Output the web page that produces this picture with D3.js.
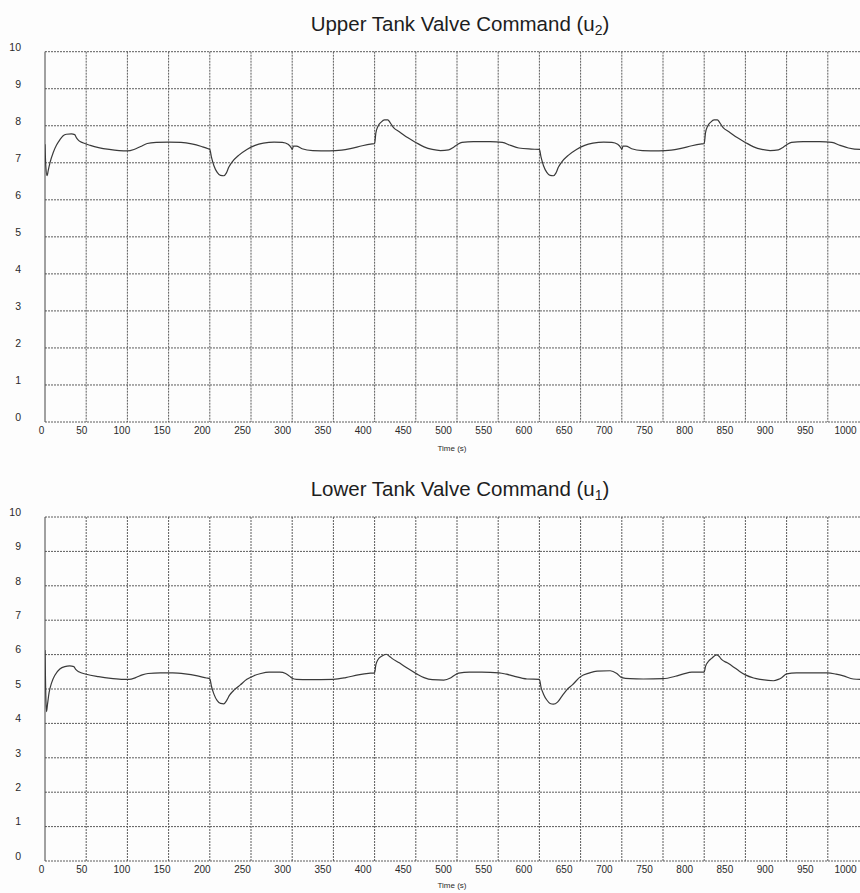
<!DOCTYPE html>
<html>
<head>
<meta charset="utf-8">
<script src="https://cdn.jsdelivr.net/npm/d3@7"></script>
<style>
  html, body { margin: 0; padding: 0; background: #fdfdfd; }
  svg { display: block; font-family: "Liberation Sans", Arial, sans-serif; }
</style>
</head>
<body>
<svg id="chart" width="860" height="893"></svg>
<script>
// Time axis tick labels (s) and value axis ticks
const xTickLabels = [0, 50, 100, 150, 200, 250, 300, 350, 400, 450, 500,
                     550, 600, 650, 700, 750, 800, 850, 900, 950, 1000];
const yTicks = [0, 1, 2, 3, 4, 5, 6, 7, 8, 9, 10];

// Upper tank valve command u2
const timeU2 = [0, 1, 2.5, 4, 6, 10, 14, 18, 22, 26, 32, 36, 38, 41, 46, 55, 65, 78, 90, 100,
  108, 116, 124, 135, 150, 165, 178, 190, 198, 200, 202, 205, 209, 213, 217, 220, 223, 227,
  235, 245, 255, 265, 278, 288, 295, 299, 300, 301.5, 305, 312, 325, 345, 360, 372, 385, 397,
  400, 401.5, 404, 408, 412, 416, 419, 423, 430, 440, 450, 460, 470, 480, 490, 496, 501, 506,
  520, 540, 555, 565, 575, 590, 600, 602, 605, 609, 613, 617, 620, 623, 627, 635, 645, 655,
  665, 678, 688, 695, 699, 700, 701.5, 705, 712, 725, 745, 760, 772, 785, 797, 800, 801.5,
  804, 808, 812, 816, 819, 823, 830, 840, 850, 860, 870, 880, 890, 896, 901, 906, 920, 940,
  955, 965, 975, 989, 1000];
const valuesU2 = [7.5, 6.9, 6.65, 6.8, 7.0, 7.28, 7.48, 7.62, 7.73, 7.77, 7.78, 7.76, 7.68, 7.6,
  7.54, 7.47, 7.41, 7.36, 7.33, 7.32, 7.36, 7.44, 7.52, 7.55, 7.56, 7.55, 7.51, 7.44, 7.38,
  7.36, 7.15, 6.92, 6.74, 6.66, 6.65, 6.72, 6.88, 7.02, 7.2, 7.36, 7.47, 7.53, 7.56, 7.55,
  7.5, 7.4, 7.36, 7.45, 7.45, 7.38, 7.33, 7.32, 7.34, 7.39, 7.46, 7.51, 7.52, 7.8, 7.98,
  8.1, 8.16, 8.16, 8.08, 7.95, 7.84, 7.68, 7.55, 7.43, 7.36, 7.33, 7.35, 7.42, 7.5, 7.55,
  7.57, 7.57, 7.55, 7.47, 7.4, 7.37, 7.36, 7.15, 6.92, 6.74, 6.66, 6.65, 6.72, 6.88, 7.02,
  7.2, 7.36, 7.47, 7.53, 7.56, 7.55, 7.5, 7.4, 7.36, 7.45, 7.45, 7.38, 7.33, 7.32, 7.34,
  7.39, 7.46, 7.51, 7.52, 7.8, 7.98, 8.1, 8.16, 8.16, 8.08, 7.95, 7.84, 7.68, 7.55, 7.43,
  7.36, 7.33, 7.35, 7.42, 7.5, 7.55, 7.57, 7.57, 7.55, 7.47, 7.4, 7.36, 7.36];

// Lower tank valve command u1
const timeU1 = [0, 0.8, 1.8, 3, 5, 8, 12, 18, 24, 30, 35, 37, 41, 50, 65, 80, 95, 102, 110,
  118, 125, 140, 155, 170, 185, 196, 200, 202, 205, 209, 213, 217, 220, 224, 230, 237, 245,
  253, 262, 272, 285, 292, 298, 300, 305, 320, 350, 365, 380, 395, 400, 401.5, 404, 409,
  414, 418, 421, 430, 440, 451, 460, 470, 484, 492, 497, 502, 515, 530, 551, 560, 568, 585,
  600, 602, 605, 609, 613, 617, 622, 627, 633, 640, 650, 660, 670, 686, 694, 700, 710, 726,
  750, 765, 775, 785, 800, 801.5, 805, 809, 815, 818, 821, 828, 835, 842, 850, 860, 868,
  884, 890, 894, 900, 912, 924, 950, 960, 969, 981, 1000];
const valuesU1 = [6.13, 5.0, 4.34, 4.55, 4.9, 5.18, 5.4, 5.58, 5.65, 5.67, 5.65, 5.58, 5.5,
  5.43, 5.36, 5.31, 5.28, 5.28, 5.33, 5.41, 5.45, 5.47, 5.47, 5.44, 5.38, 5.32, 5.3, 5.08,
  4.85, 4.66, 4.58, 4.57, 4.65, 4.82, 4.98, 5.12, 5.28, 5.38, 5.45, 5.49, 5.49, 5.45, 5.35,
  5.31, 5.28, 5.27, 5.28, 5.33, 5.41, 5.46, 5.47, 5.7, 5.85, 5.96, 6.01, 5.95, 5.89, 5.76,
  5.6, 5.44, 5.33, 5.27, 5.26, 5.32, 5.4, 5.46, 5.49, 5.49, 5.47, 5.43, 5.38, 5.29, 5.28,
  5.05, 4.85, 4.68, 4.58, 4.56, 4.62, 4.78, 4.97, 5.12, 5.36, 5.46, 5.52, 5.53, 5.45, 5.33,
  5.3, 5.29, 5.3, 5.37, 5.44, 5.49, 5.49, 5.65, 5.8, 5.89, 5.99, 5.95, 5.86, 5.76, 5.65,
  5.53, 5.41, 5.32, 5.28, 5.24, 5.28, 5.33, 5.44, 5.47, 5.47, 5.47, 5.43, 5.38, 5.29, 5.27];

const svg = d3.select("#chart");
const W = 860;

// Shared horizontal scales: time for the traces and grid, and the printed tick label scale
const xTime = d3.scaleLinear().domain([0, 1000]).range([45, 869]);
const xLabel = d3.scaleLinear().domain([0, 1000]).range([41, 845]);

const panels = [
  { title: "Upper Tank Valve Command (u", sub: "2", top: 51.7, bottom: 422, titleY: 31,
    timeLabelY: 451, t: timeU2, v: valuesU2, id: "u2" },
  { title: "Lower Tank Valve Command (u", sub: "1", top: 517, bottom: 861, titleY: 496,
    timeLabelY: 888, t: timeU1, v: valuesU1, id: "u1" }
];

panels.forEach(p => {
  const y = d3.scaleLinear().domain([0, 10]).range([p.bottom, p.top]);
  const g = svg.append("g");

  // Title with subscript
  const title = g.append("text")
    .attr("x", 460).attr("y", p.titleY)
    .attr("text-anchor", "middle")
    .attr("font-size", 20.5)
    .attr("fill", "#1e1e1e");
  title.append("tspan").text(p.title);
  title.append("tspan").text(p.sub).attr("font-size", 14).attr("dy", 4);
  title.append("tspan").text(")").attr("dy", -4);

  // Horizontal grid lines
  g.append("g").selectAll("line").data(yTicks).join("line")
    .attr("x1", xTime(0)).attr("x2", W)
    .attr("y1", d => y(d)).attr("y2", d => y(d))
    .attr("stroke", "#5c5c5c").attr("stroke-width", 1)
    .attr("stroke-dasharray", "2,1");

  // Vertical grid lines every 50 s
  g.append("g").selectAll("line").data(xTickLabels.filter(d => d > 0)).join("line")
    .attr("x1", d => xTime(d)).attr("x2", d => xTime(d))
    .attr("y1", p.top).attr("y2", p.bottom)
    .attr("stroke", "#5c5c5c").attr("stroke-width", 1)
    .attr("stroke-dasharray", "2,1");

  // Left axis line
  g.append("line")
    .attr("x1", xTime(0)).attr("x2", xTime(0))
    .attr("y1", p.top).attr("y2", p.bottom)
    .attr("stroke", "#444").attr("stroke-width", 1);

  // Value axis labels
  const yAxis = g.append("g")
    .attr("transform", "translate(24,0)")
    .call(d3.axisLeft(y).tickValues(yTicks).tickSize(0).tickPadding(3).tickFormat(d3.format("d")));
  yAxis.select(".domain").remove();
  yAxis.selectAll("text").attr("y", -5).attr("font-size", 10.5).attr("fill", "#2a2a2a")
    .attr("font-family", "'Liberation Sans', Arial, sans-serif");

  // Time axis labels
  const xAxis = g.append("g")
    .attr("transform", `translate(0,${p.bottom})`)
    .call(d3.axisBottom(xLabel).tickValues(xTickLabels).tickSize(0).tickPadding(5).tickFormat(d3.format("d")));
  xAxis.select(".domain").remove();
  xAxis.selectAll("text").attr("font-size", 10).attr("fill", "#2a2a2a")
    .attr("font-family", "'Liberation Sans', Arial, sans-serif");

  g.append("text")
    .attr("x", 452).attr("y", p.timeLabelY)
    .attr("text-anchor", "middle")
    .attr("font-size", 8).attr("fill", "#2a2a2a")
    .text("Time (s)");

  // Clip region for the trace
  svg.append("clipPath").attr("id", "clip-" + p.id)
    .append("rect")
    .attr("x", xTime(0)).attr("y", p.top)
    .attr("width", W - xTime(0)).attr("height", p.bottom - p.top);

  const pts = p.t.map((t, i) => [t, p.v[i]]);
  const line = d3.line()
    .x(d => xTime(d[0]))
    .y(d => y(d[1]))
    .curve(d3.curveMonotoneX);

  g.append("path")
    .datum(pts)
    .attr("clip-path", `url(#clip-${p.id})`)
    .attr("fill", "none")
    .attr("stroke", "#3a3a3a")
    .attr("stroke-width", 1.2)
    .attr("stroke-linejoin", "round")
    .attr("d", line);
});
</script>
</body>
</html>
